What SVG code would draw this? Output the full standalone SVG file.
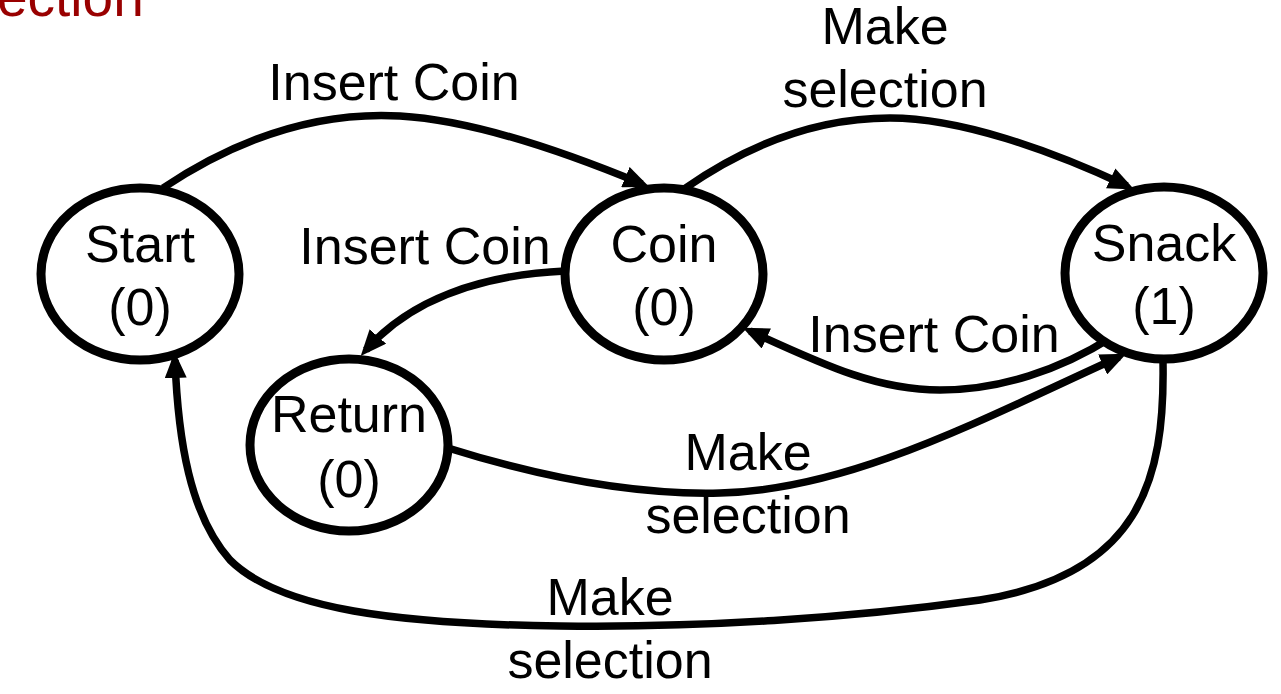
<svg xmlns="http://www.w3.org/2000/svg" width="1281" height="694" viewBox="0 0 1281 694">
<style>
.node{fill:#fff;stroke:#000;stroke-width:9}
.t{font-family:"Liberation Sans",Arial,sans-serif;font-size:52px;fill:#000;text-anchor:middle}
.e{fill:none;stroke:#000;stroke-width:7.5;marker-end:url(#arr)}
</style>
<defs>
<marker id="arr" markerUnits="userSpaceOnUse" viewBox="0 0 26 22" markerWidth="26" markerHeight="22" refX="18" refY="11" orient="auto">
<path d="M0,0 L26,11 L0,22 z" fill="#000"/>
</marker>
</defs>
<rect width="1281" height="694" fill="#fff"/>
<text x="-3" y="16" style="font-family:'Liberation Sans',Arial,sans-serif;font-size:55px;fill:#990000">ection</text>
<g id="connectors">
<path class="e" d="M163,188 C250,130 330,112 400,116 C470,120 560,150 642,184"/>
<path class="e" d="M684,189 C740,150 810,118 890,118 C960,118 1050,150 1127,186"/>
<path class="e" d="M565,271 C480,275 410,300 366,350"/>
<path class="e" d="M1112,337 C1060,370 1000,390 940,390 C880,390 830,368 750,331"/>
<path class="e" d="M448,448 C550,480 640,495 720,493 C850,490 980,420 1119,357"/>
<path class="e" d="M1163,362 C1165,480 1140,575 980,600 C850,618 700,628 560,626 C400,624 280,610 230,560 C190,515 178,440 175,360"/>
</g>
<g id="labels">
<text class="t" x="394" y="100">Insert Coin</text>
<text class="t" x="885" y="44">Make</text>
<text class="t" x="885" y="107">selection</text>
<text class="t" x="425" y="264">Insert Coin</text>
<text class="t" x="934" y="352">Insert Coin</text>
<text class="t" x="748" y="470">Make</text>
<text class="t" x="748" y="533">selection</text>
<text class="t" x="610" y="615">Make</text>
<text class="t" x="610" y="678">selection</text>
</g>
<g id="start">
<ellipse class="node" cx="140" cy="274" rx="99" ry="86"/>
<text class="t" x="140" y="262">Start</text>
<text class="t" x="140" y="325">(0)</text>
</g>
<g id="coin">
<ellipse class="node" cx="664" cy="274" rx="99" ry="86"/>
<text class="t" x="664" y="262">Coin</text>
<text class="t" x="664" y="325">(0)</text>
</g>
<g id="snack">
<ellipse class="node" cx="1164" cy="273" rx="99" ry="86"/>
<text class="t" x="1164" y="261">Snack</text>
<text class="t" x="1164" y="324">(1)</text>
</g>
<g id="return">
<ellipse class="node" cx="349" cy="445" rx="99" ry="86"/>
<text class="t" x="349" y="432">Return</text>
<text class="t" x="349" y="497">(0)</text>
</g>
</svg>
